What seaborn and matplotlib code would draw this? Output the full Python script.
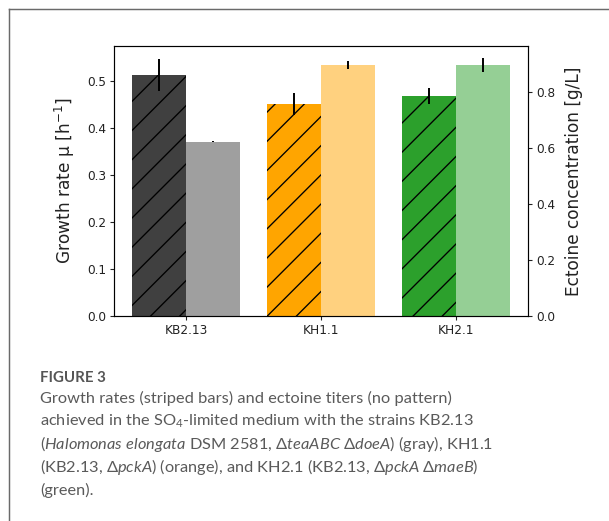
import numpy as np
import pandas as pd
import matplotlib
matplotlib.use("Agg")
import matplotlib.pyplot as plt
from matplotlib.colors import to_rgba
from matplotlib.lines import Line2D
import seaborn as sns

# ── Data ──────────────────────────────────────────────────────────────────────
strains      = ["KB2.13", "KH1.1", "KH2.1"]
growth_rate  = [0.513, 0.451, 0.468]          # h^-1 (striped bars, left axis)
growth_err   = [0.034, 0.023, 0.017]
ectoine      = [0.622, 0.896, 0.896]          # g/L (plain bars, right axis)
ectoine_err  = [0.002, 0.013, 0.024]
strain_colors = ["#404040", "#ffa500", "#2ca02c"]

caption_title = "FIGURE 3"
caption_lines = [
    "Growth rates (striped bars) and ectoine titers (no pattern)",
    r"achieved in the SO$_{4}$-limited medium with the strains KB2.13",
    r"($\mathit{Halomonas\ elongata}$ DSM 2581, Δ$\mathit{teaABC}$ Δ$\mathit{doeA}$) (gray), KH1.1",
    r"(KB2.13, Δ$\mathit{pckA}$) (orange), and KH2.1 (KB2.13, Δ$\mathit{pckA}$ Δ$\mathit{maeB}$)",
    "(green).",
]

# ── Style ─────────────────────────────────────────────────────────────────────
DPI = 175                                  # chosen so the '//' hatch spacing matches
W, H = 609, 521
plt.rcParams["hatch.linewidth"] = 0.55
plt.rcParams["mathtext.fontset"] = "dejavusans"
plt.rcParams["mathtext.rm"] = "Lato"
plt.rcParams["mathtext.it"] = "Lato:italic"

growth_df = pd.DataFrame({"strain": strains, "value": growth_rate, "kind": "growth"})
ectoine_df = pd.DataFrame({"strain": strains, "value": ectoine, "kind": "ectoine"})
kinds = ["growth", "ectoine"]

fig = plt.figure(figsize=(W / DPI, H / DPI), dpi=DPI)
ax = fig.add_axes([114 / W, 1 - 316 / H, (528 - 114) / W, (316 - 46) / H])
ax2 = ax.twinx()

sns.barplot(data=growth_df, x="strain", y="value", hue="kind", hue_order=kinds,
            order=strains, dodge=True, errorbar=None, legend=False, linewidth=0, ax=ax)
sns.barplot(data=ectoine_df, x="strain", y="value", hue="kind", hue_order=kinds,
            order=strains, dodge=True, errorbar=None, legend=False, linewidth=0, ax=ax2)

# recolour per strain: hatched solid for growth, half-transparent for ectoine
for patch, c in zip(ax.patches, strain_colors):
    patch.set_facecolor(c)
    patch.set_edgecolor("black")
    patch.set_linewidth(0)
    patch.set_hatch("//")
for patch, c in zip(ax2.patches, strain_colors):
    patch.set_facecolor(to_rgba(c, 0.5))
    patch.set_edgecolor("none")
    patch.set_linewidth(0)

# error bars at the bar centres
gx = [p.get_x() + p.get_width() / 2 for p in ax.patches[:len(strains)]]
ex = [p.get_x() + p.get_width() / 2 for p in ax2.patches[:len(strains)]]
ax.errorbar(gx, growth_rate, yerr=growth_err, fmt="none", ecolor="black",
            elinewidth=0.8, capsize=0)
ax2.errorbar(ex, ectoine, yerr=ectoine_err, fmt="none", ecolor="black",
             elinewidth=0.8, capsize=0)

ax.set_xlim(-0.535, 2.535)
ax.set_ylim(0, 0.5745)
ax2.set_ylim(0, 0.964)
ax.set_yticks(np.arange(0, 0.51, 0.1))
ax2.set_yticks(np.arange(0, 0.81, 0.2))
ax.set_xlabel("")
ax2.set_xlabel("")
ax.set_ylabel("Growth rate μ [h$^{-1}$]", fontsize=7, color="#222222", labelpad=4)
ax2.set_ylabel("Ectoine concentration [g/L]", fontsize=7, color="#222222", labelpad=4)

for a in (ax, ax2):
    a.tick_params(labelsize=5.0, length=1.8, width=0.45, pad=1.5, colors="#222222")
    for s in a.spines.values():
        s.set_linewidth(0.45)
ax.set_xticks(range(len(strains)))
ax.set_xticklabels(strains)

# ── Card border and caption ───────────────────────────────────────────────────
border = dict(color="#6a6a6a", linewidth=0.6, transform=fig.transFigure)
fig.add_artist(Line2D([9 / W, 1], [1 - 9 / H, 1 - 9 / H], **border))
fig.add_artist(Line2D([9 / W, 9 / W], [0, 1 - 9 / H], **border))

cap_font = ["Lato", "DejaVu Sans"]
fig.text(40 / W, 1 - 378 / H, caption_title, family=cap_font, fontsize=6.2,
         fontweight="bold", color="#555555", va="center", ha="left")
for i, line in enumerate(caption_lines):
    fig.text(40 / W, 1 - (398 + 23 * i) / H, line, family=cap_font, fontsize=6.75,
             color="#5a5a5a", va="center", ha="left", math_fontfamily="custom")

fig.savefig("out.png", dpi=DPI)
plt.close(fig)
